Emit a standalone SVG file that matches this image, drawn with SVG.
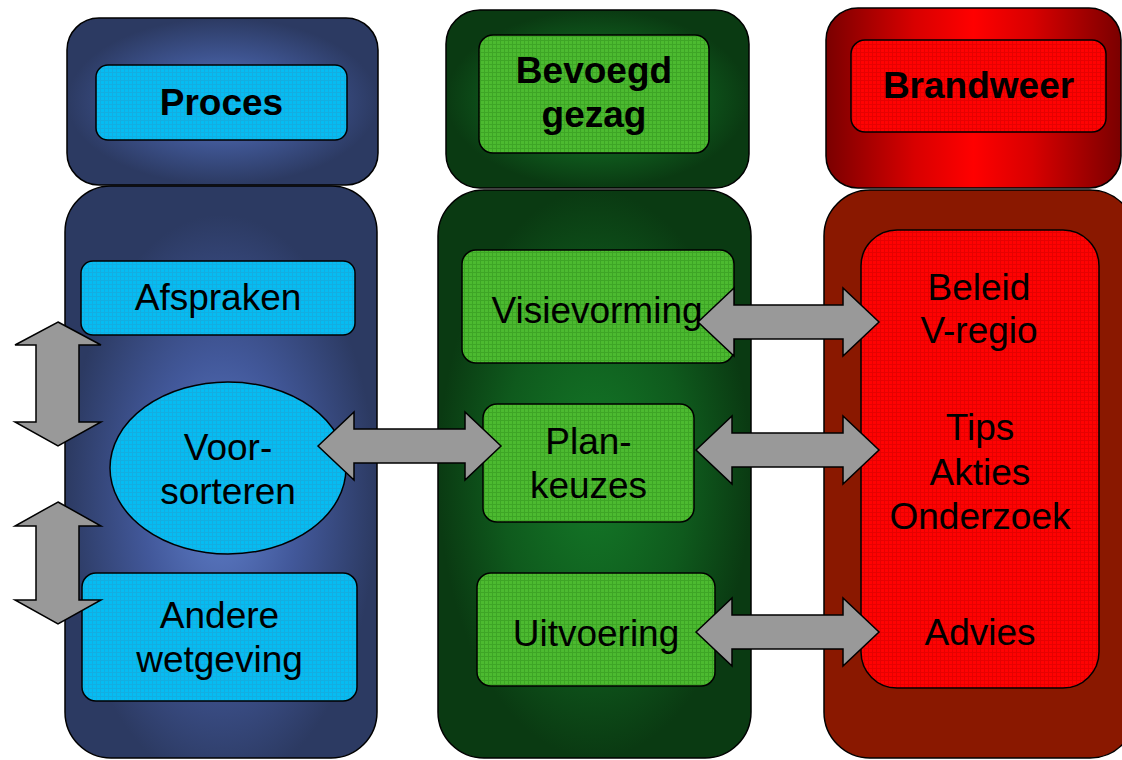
<svg xmlns="http://www.w3.org/2000/svg" width="1122" height="760" viewBox="0 0 1122 760">
<defs>
<radialGradient id="gBlue" cx="0.5" cy="0.5" r="0.5">
<stop offset="0" stop-color="#5d7cc6"/>
<stop offset="0.55" stop-color="#3e5490"/>
<stop offset="1" stop-color="#2c3a62"/>
</radialGradient>
<radialGradient id="gBlueB" cx="0.5" cy="0.55" r="0.5">
<stop offset="0" stop-color="#5f7fca"/>
<stop offset="0.5" stop-color="#42589a"/>
<stop offset="1" stop-color="#2c3a62"/>
</radialGradient>
<radialGradient id="gGreen" cx="0.5" cy="0.5" r="0.5">
<stop offset="0" stop-color="#147a28"/>
<stop offset="0.6" stop-color="#0f5a1d"/>
<stop offset="1" stop-color="#0a3a12"/>
</radialGradient>
<linearGradient id="gRed" x1="0" y1="0" x2="1" y2="0">
<stop offset="0" stop-color="#7a0000"/>
<stop offset="0.3" stop-color="#d80000"/>
<stop offset="0.5" stop-color="#ff0000"/>
<stop offset="0.7" stop-color="#d80000"/>
<stop offset="1" stop-color="#7a0000"/>
</linearGradient>
<pattern id="tB" width="4" height="4" patternUnits="userSpaceOnUse">
<rect width="4" height="4" fill="#06bcf2"/>
<path d="M0 0.5H4M0.5 0V4" stroke="#1f9fd0" stroke-width="1" opacity="0.5"/>
</pattern>
<pattern id="tG" width="4" height="4" patternUnits="userSpaceOnUse">
<rect width="4" height="4" fill="#4cba30"/>
<path d="M0 0.5H4M0.5 0V4" stroke="#2f8f1c" stroke-width="1" opacity="0.5"/>
</pattern>
<pattern id="tR" width="4" height="4" patternUnits="userSpaceOnUse">
<rect width="4" height="4" fill="#ff0202"/>
<path d="M0 0.5H4M0.5 0V4" stroke="#c80000" stroke-width="1" opacity="0.45"/>
</pattern>
</defs>
<style>
.o{stroke:#000;stroke-width:1.5}
.i{stroke:#000;stroke-width:1.5}
.t{font-family:"Liberation Sans",Arial,sans-serif;font-size:37px;fill:#000;text-anchor:middle}
.b{font-weight:bold}
.arr{fill:#999999;stroke:#000;stroke-width:1.5;stroke-linejoin:miter}
</style>
<rect width="1122" height="760" fill="#ffffff"/>

<g id="proces-header">
<rect class="o" x="67" y="18" width="311" height="167" rx="32" fill="url(#gBlue)"/>
<rect class="i" x="96" y="65" width="251" height="75" rx="12" fill="url(#tB)"/>
<text class="t b" x="221.5" y="115">Proces</text>
</g>
<g id="proces-column">
<rect class="o" x="65" y="186" width="312" height="572" rx="46" fill="url(#gBlueB)"/>
</g>
<g id="afspraken">
<rect class="i" x="81" y="261" width="274" height="74" rx="12" fill="url(#tB)"/>
<text class="t" x="218" y="310">Afspraken</text>
</g>
<g id="voorsorteren">
<ellipse class="i" cx="228" cy="468" rx="118" ry="86" fill="url(#tB)"/>
<text class="t" x="228" y="460">Voor-</text>
<text class="t" x="228" y="504">sorteren</text>
</g>
<g id="andere-wetgeving">
<rect class="i" x="82" y="573" width="275" height="128" rx="14" fill="url(#tB)"/>
<text class="t" x="219.5" y="628">Andere</text>
<text class="t" x="219.5" y="672">wetgeving</text>
</g>

<g id="bevoegd-gezag-header">
<rect class="o" x="446" y="10" width="303" height="178" rx="34" fill="url(#gGreen)"/>
<rect class="i" x="479" y="35" width="230" height="118" rx="14" fill="url(#tG)"/>
<text class="t b" x="594" y="83">Bevoegd</text>
<text class="t b" x="594" y="127">gezag</text>
</g>
<g id="bevoegd-gezag-column">
<rect class="o" x="438" y="190" width="313" height="568" rx="46" fill="url(#gGreen)"/>
</g>
<g id="visievorming">
<rect class="i" x="462" y="250" width="272" height="113" rx="14" fill="url(#tG)"/>
<text class="t" x="597" y="323">Visievorming</text>
</g>
<g id="plankeuzes">
<rect class="i" x="483" y="404" width="211" height="118" rx="14" fill="url(#tG)"/>
<text class="t" x="588.5" y="454">Plan-</text>
<text class="t" x="588.5" y="498">keuzes</text>
</g>
<g id="uitvoering">
<rect class="i" x="477" y="573" width="238" height="113" rx="14" fill="url(#tG)"/>
<text class="t" x="596" y="646">Uitvoering</text>
</g>

<g id="brandweer-header">
<rect class="o" x="826" y="8" width="295" height="180" rx="32" fill="url(#gRed)"/>
<rect class="i" x="851" y="40" width="255" height="92" rx="14" fill="url(#tR)"/>
<text class="t b" x="978.5" y="98">Brandweer</text>
</g>
<g id="brandweer-column">
<rect class="o" x="824" y="190" width="312" height="568" rx="46" fill="#8a1800"/>
</g>
<g id="brandweer-content">
<rect class="i" x="861" y="230" width="238" height="458" rx="36" fill="url(#tR)"/>
<text class="t" x="979" y="300">Beleid</text>
<text class="t" x="979" y="343">V-regio</text>
<text class="t" x="980" y="440">Tips</text>
<text class="t" x="980" y="485">Akties</text>
<text class="t" x="980" y="529">Onderzoek</text>
<text class="t" x="980" y="645">Advies</text>
</g>

<g id="connectors">
<polygon class="arr" points="318,446 354,412 354,429 465,429 465,412 501,446 465,480 465,463 354,463 354,480"/>
<polygon class="arr" points="698,322 734,288 734,305 843,305 843,288 879,322 843,356 843,339 734,339 734,356"/>
<polygon class="arr" points="696,450 732,416 732,433 843,433 843,416 879,450 843,484 843,467 732,467 732,484"/>
<polygon class="arr" points="696,632 732,598 732,615 843,615 843,598 879,632 843,666 843,649 732,649 732,666"/>
<polygon class="arr" points="58,322 101,345 79,345 79,422 101,422 58,446 15,422 36,422 36,345 15,345"/>
<polygon class="arr" points="58,502 101,526 79,526 79,600 101,600 58,624 15,600 36,600 36,526 15,526"/>
</g>
</svg>
